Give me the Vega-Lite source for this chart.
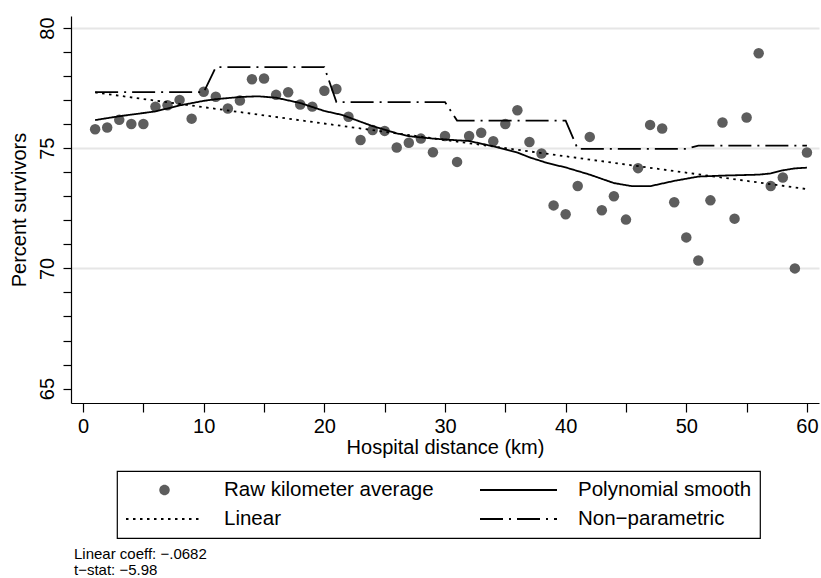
{
  "$schema": "https://vega.github.io/schema/vega-lite/v6.json",
  "width": 748,
  "height": 387,
  "autosize": "none",
  "padding": {"left": 71, "top": 16, "right": 2, "bottom": 175},
  "background": "white",
  "title": {
    "text": ["Linear coeff: −.0682", "t−stat: −5.98"],
    "orient": "bottom",
    "anchor": "start",
    "frame": "group",
    "font": "Liberation Sans",
    "fontSize": 15,
    "fontWeight": "normal",
    "color": "black",
    "lineHeight": 16,
    "offset": 8,
    "dx": 3
  },
  "data": {
    "values": [
      {"km": 1, "pct": 75.79, "series": "Raw kilometer average"},
      {"km": 2, "pct": 75.86, "series": "Raw kilometer average"},
      {"km": 3, "pct": 76.18, "series": "Raw kilometer average"},
      {"km": 4, "pct": 76.01, "series": "Raw kilometer average"},
      {"km": 5, "pct": 76.01, "series": "Raw kilometer average"},
      {"km": 6, "pct": 76.73, "series": "Raw kilometer average"},
      {"km": 7, "pct": 76.79, "series": "Raw kilometer average"},
      {"km": 8, "pct": 77.01, "series": "Raw kilometer average"},
      {"km": 9, "pct": 76.23, "series": "Raw kilometer average"},
      {"km": 10, "pct": 77.35, "series": "Raw kilometer average"},
      {"km": 11, "pct": 77.14, "series": "Raw kilometer average"},
      {"km": 12, "pct": 76.65, "series": "Raw kilometer average"},
      {"km": 13, "pct": 76.98, "series": "Raw kilometer average"},
      {"km": 14, "pct": 77.87, "series": "Raw kilometer average"},
      {"km": 15, "pct": 77.9, "series": "Raw kilometer average"},
      {"km": 16, "pct": 77.22, "series": "Raw kilometer average"},
      {"km": 17, "pct": 77.33, "series": "Raw kilometer average"},
      {"km": 18, "pct": 76.82, "series": "Raw kilometer average"},
      {"km": 19, "pct": 76.73, "series": "Raw kilometer average"},
      {"km": 20, "pct": 77.39, "series": "Raw kilometer average"},
      {"km": 21, "pct": 77.46, "series": "Raw kilometer average"},
      {"km": 22, "pct": 76.31, "series": "Raw kilometer average"},
      {"km": 23, "pct": 75.34, "series": "Raw kilometer average"},
      {"km": 24, "pct": 75.76, "series": "Raw kilometer average"},
      {"km": 25, "pct": 75.72, "series": "Raw kilometer average"},
      {"km": 26, "pct": 75.03, "series": "Raw kilometer average"},
      {"km": 27, "pct": 75.23, "series": "Raw kilometer average"},
      {"km": 28, "pct": 75.4, "series": "Raw kilometer average"},
      {"km": 29, "pct": 74.83, "series": "Raw kilometer average"},
      {"km": 30, "pct": 75.51, "series": "Raw kilometer average"},
      {"km": 31, "pct": 74.43, "series": "Raw kilometer average"},
      {"km": 32, "pct": 75.51, "series": "Raw kilometer average"},
      {"km": 33, "pct": 75.64, "series": "Raw kilometer average"},
      {"km": 34, "pct": 75.29, "series": "Raw kilometer average"},
      {"km": 35, "pct": 76.01, "series": "Raw kilometer average"},
      {"km": 36, "pct": 76.58, "series": "Raw kilometer average"},
      {"km": 37, "pct": 75.26, "series": "Raw kilometer average"},
      {"km": 38, "pct": 74.78, "series": "Raw kilometer average"},
      {"km": 39, "pct": 72.62, "series": "Raw kilometer average"},
      {"km": 40, "pct": 72.25, "series": "Raw kilometer average"},
      {"km": 41, "pct": 73.43, "series": "Raw kilometer average"},
      {"km": 42, "pct": 75.47, "series": "Raw kilometer average"},
      {"km": 43, "pct": 72.42, "series": "Raw kilometer average"},
      {"km": 44, "pct": 73.0, "series": "Raw kilometer average"},
      {"km": 45, "pct": 72.03, "series": "Raw kilometer average"},
      {"km": 46, "pct": 74.17, "series": "Raw kilometer average"},
      {"km": 47, "pct": 75.97, "series": "Raw kilometer average"},
      {"km": 48, "pct": 75.82, "series": "Raw kilometer average"},
      {"km": 49, "pct": 72.75, "series": "Raw kilometer average"},
      {"km": 50, "pct": 71.29, "series": "Raw kilometer average"},
      {"km": 51, "pct": 70.33, "series": "Raw kilometer average"},
      {"km": 52, "pct": 72.83, "series": "Raw kilometer average"},
      {"km": 53, "pct": 76.07, "series": "Raw kilometer average"},
      {"km": 54, "pct": 72.07, "series": "Raw kilometer average"},
      {"km": 55, "pct": 76.28, "series": "Raw kilometer average"},
      {"km": 56, "pct": 78.95, "series": "Raw kilometer average"},
      {"km": 57, "pct": 73.43, "series": "Raw kilometer average"},
      {"km": 58, "pct": 73.78, "series": "Raw kilometer average"},
      {"km": 59, "pct": 70.0, "series": "Raw kilometer average"},
      {"km": 60, "pct": 74.82, "series": "Raw kilometer average"},

      {"km": 1, "pct": 76.17, "series": "Polynomial smooth"},
      {"km": 3, "pct": 76.33, "series": "Polynomial smooth"},
      {"km": 6, "pct": 76.53, "series": "Polynomial smooth"},
      {"km": 8, "pct": 76.78, "series": "Polynomial smooth"},
      {"km": 10, "pct": 76.97, "series": "Polynomial smooth"},
      {"km": 11, "pct": 77.04, "series": "Polynomial smooth"},
      {"km": 13, "pct": 77.13, "series": "Polynomial smooth"},
      {"km": 14.5, "pct": 77.16, "series": "Polynomial smooth"},
      {"km": 16, "pct": 77.1, "series": "Polynomial smooth"},
      {"km": 18, "pct": 76.88, "series": "Polynomial smooth"},
      {"km": 20, "pct": 76.55, "series": "Polynomial smooth"},
      {"km": 21.5, "pct": 76.38, "series": "Polynomial smooth"},
      {"km": 23, "pct": 76.1, "series": "Polynomial smooth"},
      {"km": 24, "pct": 75.92, "series": "Polynomial smooth"},
      {"km": 26, "pct": 75.62, "series": "Polynomial smooth"},
      {"km": 27, "pct": 75.5, "series": "Polynomial smooth"},
      {"km": 29, "pct": 75.4, "series": "Polynomial smooth"},
      {"km": 31, "pct": 75.33, "series": "Polynomial smooth"},
      {"km": 32, "pct": 75.3, "series": "Polynomial smooth"},
      {"km": 34, "pct": 75.08, "series": "Polynomial smooth"},
      {"km": 36, "pct": 74.82, "series": "Polynomial smooth"},
      {"km": 37, "pct": 74.62, "series": "Polynomial smooth"},
      {"km": 38.5, "pct": 74.38, "series": "Polynomial smooth"},
      {"km": 40, "pct": 74.2, "series": "Polynomial smooth"},
      {"km": 41, "pct": 74.05, "series": "Polynomial smooth"},
      {"km": 42, "pct": 73.9, "series": "Polynomial smooth"},
      {"km": 44, "pct": 73.55, "series": "Polynomial smooth"},
      {"km": 45.5, "pct": 73.42, "series": "Polynomial smooth"},
      {"km": 47, "pct": 73.42, "series": "Polynomial smooth"},
      {"km": 49, "pct": 73.64, "series": "Polynomial smooth"},
      {"km": 51, "pct": 73.82, "series": "Polynomial smooth"},
      {"km": 53, "pct": 73.86, "series": "Polynomial smooth"},
      {"km": 56, "pct": 73.9, "series": "Polynomial smooth"},
      {"km": 57, "pct": 73.95, "series": "Polynomial smooth"},
      {"km": 58, "pct": 74.08, "series": "Polynomial smooth"},
      {"km": 59, "pct": 74.16, "series": "Polynomial smooth"},
      {"km": 60, "pct": 74.19, "series": "Polynomial smooth"},

      {"km": 1, "pct": 77.32, "series": "Linear"},
      {"km": 60, "pct": 73.3, "series": "Linear"},

      {"km": 1, "pct": 77.33, "series": "Non−parametric"},
      {"km": 10, "pct": 77.33, "series": "Non−parametric"},
      {"km": 11, "pct": 78.37, "series": "Non−parametric"},
      {"km": 20, "pct": 78.37, "series": "Non−parametric"},
      {"km": 21, "pct": 76.92, "series": "Non−parametric"},
      {"km": 30, "pct": 76.92, "series": "Non−parametric"},
      {"km": 31, "pct": 76.15, "series": "Non−parametric"},
      {"km": 40, "pct": 76.15, "series": "Non−parametric"},
      {"km": 41, "pct": 74.97, "series": "Non−parametric"},
      {"km": 50, "pct": 74.97, "series": "Non−parametric"},
      {"km": 51, "pct": 75.11, "series": "Non−parametric"},
      {"km": 60, "pct": 75.11, "series": "Non−parametric"}
    ]
  },
  "encoding": {
    "x": {
      "field": "km",
      "type": "quantitative",
      "scale": {"domain": [-1, 61], "nice": false, "zero": false},
      "axis": {
        "title": "Hospital distance (km)",
        "values": [0, 5, 10, 15, 20, 25, 30, 35, 40, 45, 50, 55, 60],
        "labelExpr": "datum.value % 10 === 0 ? datum.label : ''",
        "labelOverlap": false,
        "labelFlush": false,
        "grid": false,
        "tickSize": 9,
        "labelPadding": 4,
        "titlePadding": 1,
        "encode": {"ticks": {"y2": {"value": {"expr": "datum.value % 10 === 0 ? 9 : 4.5"}}}}
      }
    },
    "y": {
      "field": "pct",
      "type": "quantitative",
      "scale": {"domain": [64.4, 80.5], "nice": false, "zero": false},
      "axis": {
        "title": "Percent survivors",
        "values": [65, 66, 67, 68, 69, 70, 71, 72, 73, 74, 75, 76, 77, 78, 79, 80],
        "labelExpr": "datum.value % 5 === 0 ? datum.label : ''",
        "labelOverlap": false,
        "labelFlush": false,
        "labelAngle": -90,
        "labelAlign": "center",
        "labelBaseline": "bottom",
        "tickSize": 8,
        "labelPadding": 6,
        "titlePadding": 8,
        "grid": true,
        "gridColor": "#e6e6e6",
        "gridWidth": 2,
        "gridOpacity": {"condition": {"test": "datum.value % 5 === 0 && datum.value > 65", "value": 1}, "value": 0},
        "encode": {"ticks": {"x2": {"value": {"expr": "datum.value % 5 === 0 ? -8 : -4"}}}}
      }
    }
  },
  "layer": [
    {
      "transform": [{"filter": "datum.series === 'Raw kilometer average'"}],
      "mark": {"type": "circle", "size": 110, "color": "#5d5d5d", "opacity": 1}
    },
    {
      "transform": [{"filter": "datum.series !== 'Raw kilometer average'"}],
      "mark": {"type": "line", "color": "black", "strokeWidth": 1.8},
      "encoding": {
        "strokeDash": {
          "field": "series",
          "type": "nominal",
          "scale": {
            "domain": ["Raw kilometer average", "Linear", "Polynomial smooth", "Non−parametric"],
            "range": [[1, 0], [2.5, 4.5], [1, 0], [23, 6, 2, 6]]
          },
          "legend": {
            "title": null,
            "orient": "none",
            "legendX": 46,
            "legendY": 455,
            "columns": 2,
            "padding": 8,
            "strokeColor": "black",
            "symbolType": "stroke",
            "symbolSize": 5929,
            "symbolStrokeWidth": 1.8,
            "symbolStrokeColor": "black",
            "clipHeight": 22,
            "rowPadding": 7,
            "columnPadding": 45,
            "labelOffset": 20,
            "labelFont": "Liberation Sans",
            "labelFontSize": 20.5,
            "labelColor": "black",
            "labelLimit": 400,
            "encode": {
              "symbols": {
                "update": {
                  "shape": [
                    {"test": "datum.value === 'Raw kilometer average'", "value": "M0.136,0A0.136,0.136,0,1,1,-0.136,0A0.136,0.136,0,1,1,0.136,0Z"},
                    {"value": "stroke"}
                  ],
                  "fill": [
                    {"test": "datum.value === 'Raw kilometer average'", "value": "#5d5d5d"},
                    {"value": "transparent"}
                  ],
                  "stroke": [
                    {"test": "datum.value === 'Raw kilometer average'", "value": "transparent"},
                    {"value": "black"}
                  ]
                }
              }
            }
          }
        }
      }
    }
  ],
  "config": {
    "view": {"stroke": null},
    "font": "Liberation Sans",
    "axis": {
      "domainColor": "black",
      "domainWidth": 1.2,
      "tickColor": "black",
      "tickWidth": 1.2,
      "labelFont": "Liberation Sans",
      "labelFontSize": 20,
      "labelColor": "black",
      "titleFont": "Liberation Sans",
      "titleFontSize": 20,
      "titleFontWeight": "normal",
      "titleColor": "black"
    },
    "legend": {"strokeWidth": 1.2}
  }
}
